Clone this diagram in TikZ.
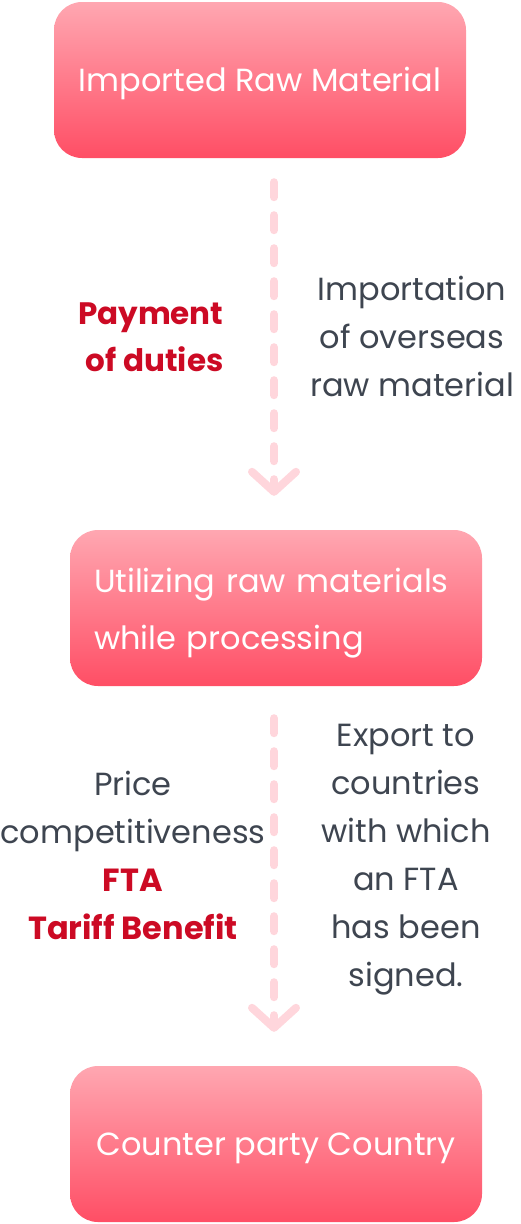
\documentclass[tikz,border=0pt]{standalone}
\usepackage{fontspec}
\setmainfont{Poppins}
\usepackage{tikz}
\usetikzlibrary{arrows.meta,calc}
\definecolor{boxtop}{HTML}{FFA7B1}
\definecolor{boxbottom}{HTML}{FF4E65}
\definecolor{flowpink}{HTML}{FFD6DC}
\definecolor{dutyred}{HTML}{CC0A24}
\definecolor{notegray}{HTML}{3E4550}

\begin{document}
\begin{tikzpicture}[x=1pt,y=-1pt,
  stagebox/.style={rounded corners=28pt, top color=boxtop, bottom color=boxbottom,
    minimum width=412pt, minimum height=156pt, text=white, inner sep=0pt,
    font=\fontsize{32}{57}\selectfont},
  flowline/.style={flowpink, line width=8pt, line cap=round,
    dash pattern=on 15pt off 18pt,
    -{Straight Barb[length=20pt,width=44pt,line cap=round,line join=round]}},
  redtext/.style={text=dutyred, font=\fontsize{31}{47}\selectfont\bfseries, align=right},
  graytext/.style={text=notegray, font=\fontsize{32}{48}\selectfont, align=center}]
\useasboundingbox (0,0) rectangle (520,1224);

\node[stagebox, text height=22pt, text depth=0pt] (raw) at (260,80) {Imported Raw Material};
\node[stagebox, text width=364pt, align=left, text depth=56pt] (proc) at (276,608)
  {Utilizing raw materials\\while processing};
\node[stagebox, text height=22pt, text depth=0pt] (country) at (276,1144) {Counter party Country};

\draw[flowline] ([yshift=-24pt]raw.south -| 274,0) -- ([yshift=34pt]proc.north -| 274,0);
\draw[flowline] ([yshift=-32pt]proc.south -| 274,0) -- ([yshift=34pt]country.north -| 274,0);

\node[redtext, anchor=east] (duties) at (227,337) {Payment\\of duties};
\node[graytext] (importation) at (412,336) {Importation\\of overseas\\raw material};
\node[graytext] (price) at (133,855) {Price\\competitiveness\\
  {\color{dutyred}\bfseries FTA}\\{\color{dutyred}\bfseries Tariff Benefit}};
\node[graytext] (export) at (406,860) {Export to\\countries\\with which\\an FTA\\has been\\signed.};
\end{tikzpicture}
\end{document}
